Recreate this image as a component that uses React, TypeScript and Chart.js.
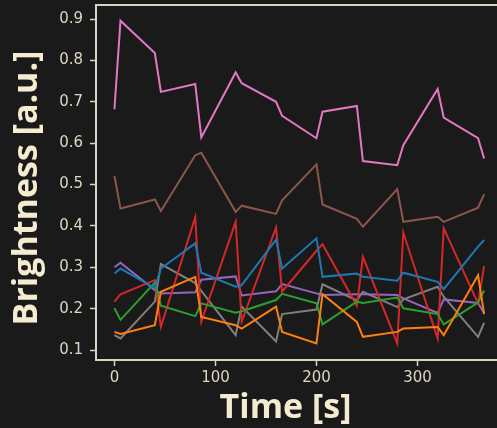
import React, { useEffect, useRef } from "react";
import { Chart, registerables } from "chart.js";

Chart.register(...registerables);

const times = [0, 6, 40, 46, 80, 86, 120, 126, 160, 166, 200, 206, 240, 246, 280, 286, 320, 326, 360, 366];

const blue = [0.285, 0.297, 0.25, 0.297, 0.358, 0.287, 0.253, 0.257, 0.367, 0.297, 0.37, 0.277, 0.285, 0.277, 0.2675, 0.287, 0.265, 0.247, 0.35, 0.366];
const orange = [0.144, 0.139, 0.16, 0.241, 0.277, 0.18, 0.16, 0.152, 0.205, 0.144, 0.116, 0.235, 0.168, 0.132, 0.144, 0.152, 0.156, 0.136, 0.281, 0.187];
const green = [0.201, 0.173, 0.263, 0.207, 0.182, 0.213, 0.19, 0.194, 0.221, 0.236, 0.213, 0.162, 0.217, 0.214, 0.227, 0.201, 0.187, 0.162, 0.215, 0.244];
const red = [0.217, 0.235, 0.269, 0.156, 0.421, 0.1685, 0.41, 0.1685, 0.3965, 0.241, 0.34, 0.356, 0.207, 0.3255, 0.116, 0.384, 0.128, 0.394, 0.213, 0.303];
const purple = [0.3, 0.311, 0.245, 0.237, 0.2395, 0.27, 0.278, 0.232, 0.242, 0.2595, 0.237, 0.233, 0.235, 0.235, 0.233, 0.225, 0.19, 0.2225, 0.214, 0.189];
const brown = [0.521, 0.442, 0.464, 0.436, 0.571, 0.577, 0.434, 0.449, 0.429, 0.462, 0.549, 0.452, 0.417, 0.398, 0.489, 0.41, 0.422, 0.41, 0.444, 0.477];
const pink = [0.682, 0.896, 0.818, 0.724, 0.743, 0.614, 0.771, 0.745, 0.7, 0.666, 0.612, 0.676, 0.69, 0.557, 0.547, 0.595, 0.731, 0.662, 0.612, 0.563];
const gray = [0.136, 0.128, 0.217, 0.308, 0.262, 0.243, 0.136, 0.205, 0.121, 0.187, 0.198, 0.259, 0.22, 0.241, 0.204, 0.2225, 0.253, 0.229, 0.132, 0.166];

const seriesList = [blue, orange, green, red, purple, brown, pink, gray];
const seriesColors = ["#1f77b4", "#ff7f0e", "#2ca02c", "#d62728", "#9467bd", "#8c564b", "#e377c2", "#7f7f7f"];

const xTickValues = [0, 100, 200, 300];
const yTickValues = [0.1, 0.2, 0.3, 0.4, 0.5, 0.6, 0.7, 0.8, 0.9];

const xTitle = "Time [s]";
const yTitle = "Brightness [a.u.]";

const BG = "#1a1a1a";
const SPINE = "#d9d3bf";
const TICKTXT = "#ddd6c2";
const TITLE = "#f4ebd0";

export default function App() {
  const ref = useRef<HTMLCanvasElement | null>(null);
  useEffect(() => {
    const canvas = ref.current;
    if (!canvas) return;
    const framePlugin = {
      id: "frame",
      beforeDraw(chart: any) {
        const { ctx, width, height } = chart;
        ctx.save();
        ctx.fillStyle = BG;
        ctx.fillRect(0, 0, width, height);
        ctx.restore();
      },
      afterDraw(chart: any) {
        const { ctx, chartArea } = chart;
        ctx.save();
        ctx.strokeStyle = SPINE;
        ctx.lineWidth = 2;
        ctx.beginPath();
        ctx.moveTo(chartArea.left - 1, chartArea.top);
        ctx.lineTo(chartArea.right + 2, chartArea.top);
        ctx.stroke();
        ctx.fillStyle = TITLE;
        ctx.font = 'bold 34px "Open Sans"';
        ctx.textAlign = "center";
        ctx.textBaseline = "alphabetic";
        ctx.fillText(xTitle, 285.5, 418);
        ctx.translate(37, 188);
        ctx.rotate(-Math.PI / 2);
        ctx.fillText(yTitle, 0, 0);
        ctx.restore();
      },
    };
    const chart = new Chart(canvas, {
      type: "line",
      data: {
        datasets: seriesList.map((s, i) => ({
          data: s.map((v, j) => ({ x: times[j], y: v })),
          borderColor: seriesColors[i],
          backgroundColor: seriesColors[i],
          borderWidth: 2,
          pointRadius: 0,
          tension: 0,
          fill: false,
        })),
      },
      options: {
        responsive: false,
        animation: false,
        devicePixelRatio: 1,
        layout: { padding: { top: 5, right: 0, left: 0, bottom: 0 } },
        plugins: { legend: { display: false }, tooltip: { enabled: false } },
        scales: {
          x: {
            type: "linear",
            min: -18.25,
            max: 378.75,
            afterBuildTicks: (s: any) => { s.ticks = xTickValues.map((v) => ({ value: v })); },
            afterFit: (s: any) => { s.height = 68; s.paddingLeft = 0; s.paddingRight = 0; },
            ticks: {
              color: TICKTXT,
              font: { family: "DejaVu Sans", size: 15 },
              padding: 3,
              maxRotation: 0,
              autoSkip: false,
              callback: (v: any) => String(Math.round(Number(v))),
            },
            grid: { drawOnChartArea: false, drawTicks: true, tickLength: 6, color: SPINE, tickWidth: 1.5 },
            border: { display: true, color: SPINE, width: 2 },
          },
          y: {
            type: "linear",
            min: 0.076,
            max: 0.934,
            afterBuildTicks: (s: any) => { s.ticks = yTickValues.map((v) => ({ value: v })); },
            afterFit: (s: any) => { s.width = 96; s.paddingTop = 0; s.paddingBottom = 0; },
            ticks: {
              color: TICKTXT,
              font: { family: "DejaVu Sans", size: 15 },
              padding: 7,
              autoSkip: false,
              callback: (v: any) => Number(v).toFixed(1),
            },
            grid: { drawOnChartArea: false, drawTicks: true, tickLength: 6, color: SPINE, tickWidth: 1.5 },
            border: { display: true, color: SPINE, width: 2 },
          },
        },
      },
      plugins: [framePlugin],
    });
    return () => chart.destroy();
  }, []);
  return (
    <div style={{ position: "fixed", left: 0, top: 0, width: 497, height: 428, overflow: "hidden", background: BG }}>
      <canvas ref={ref} width={497} height={428} style={{ display: "block", width: 497, height: 428 }} />
    </div>
  );
}
